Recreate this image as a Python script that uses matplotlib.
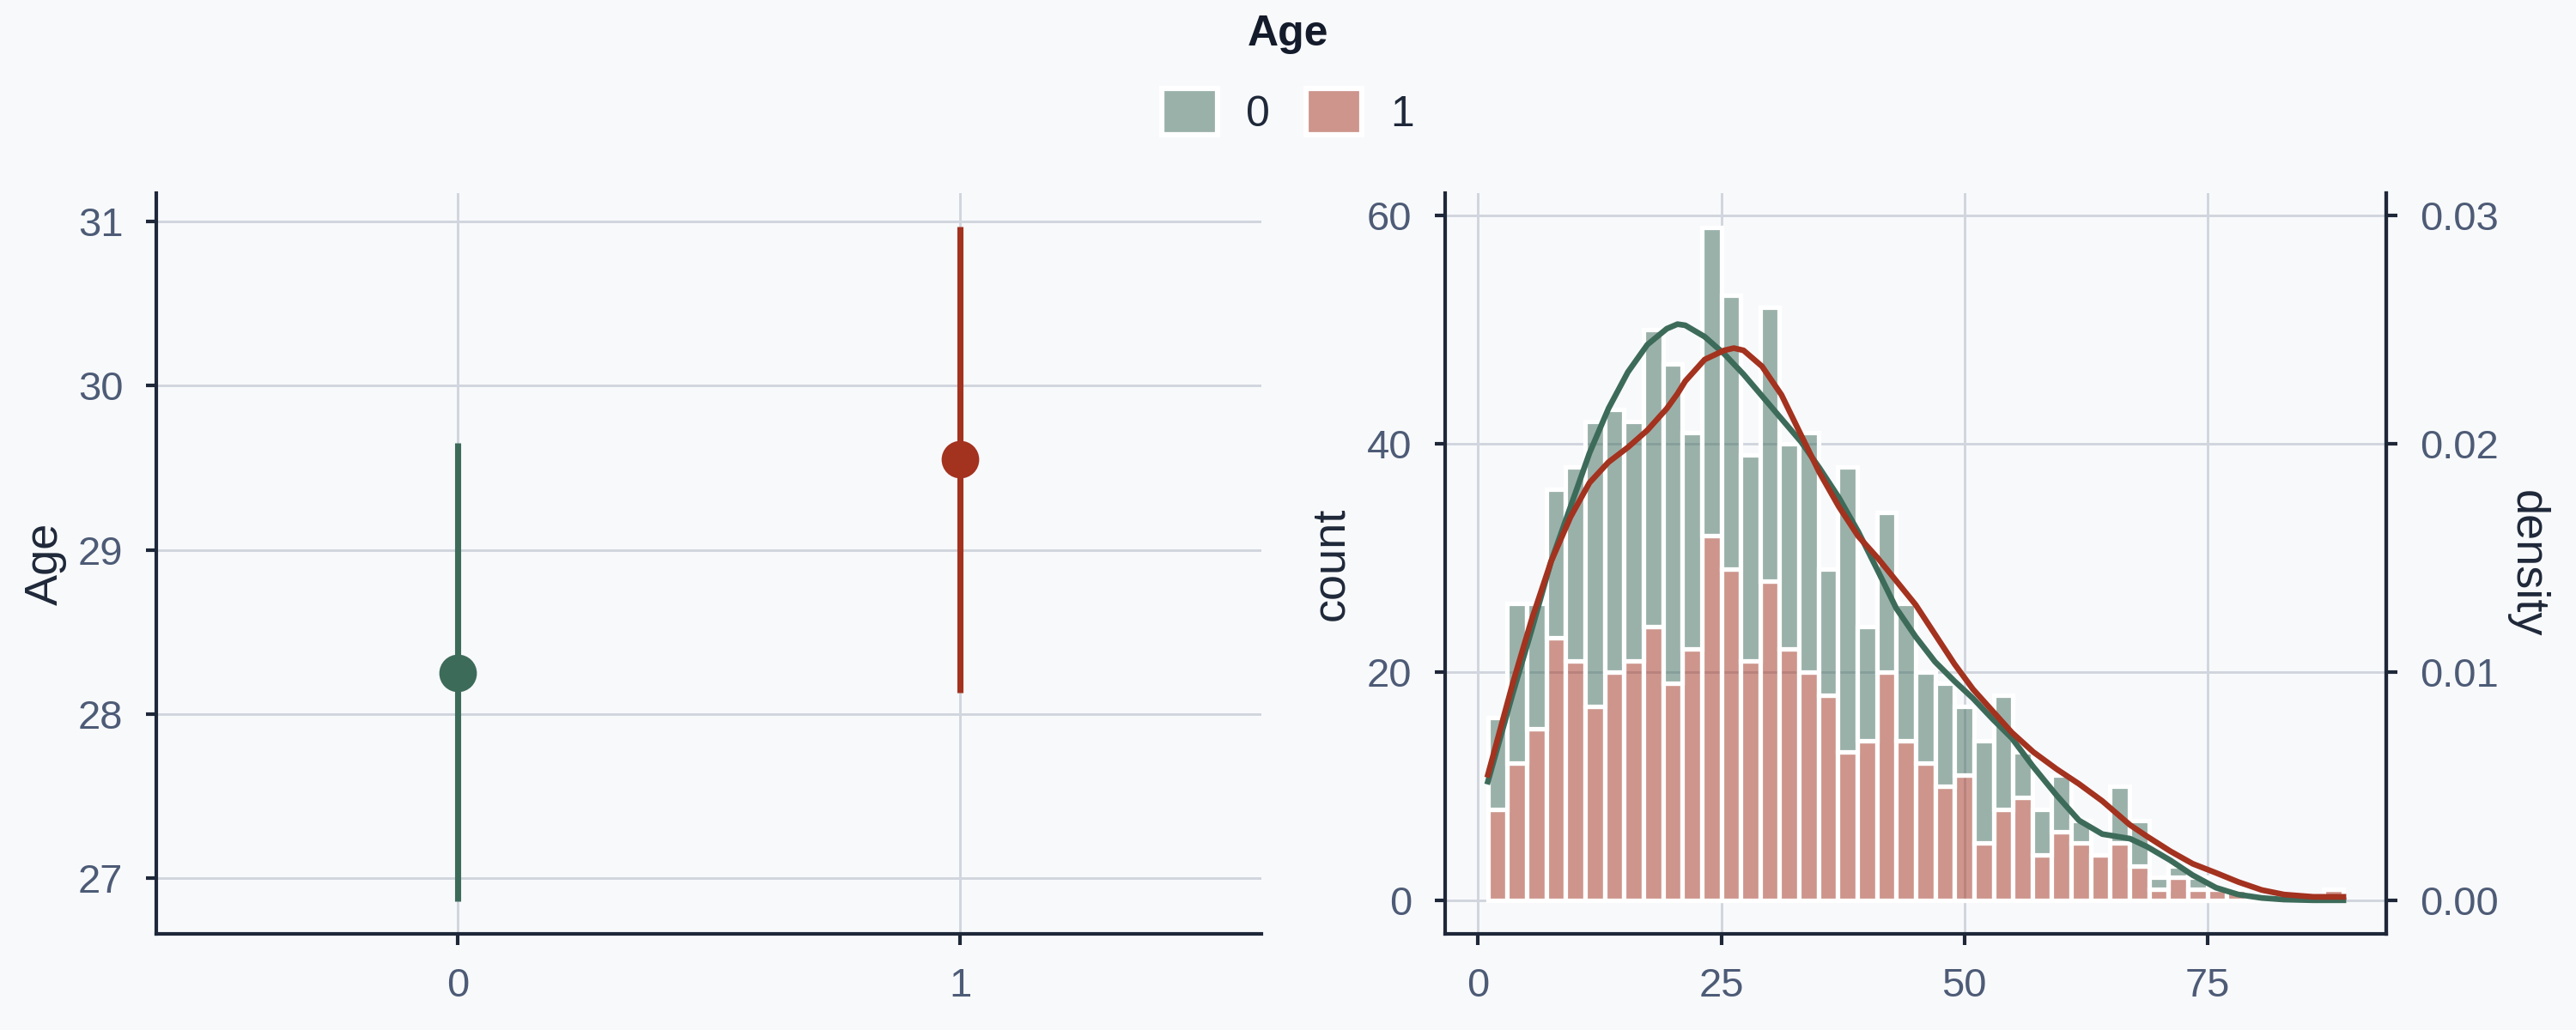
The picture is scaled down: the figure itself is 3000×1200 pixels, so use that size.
import numpy as np
import matplotlib
matplotlib.use('Agg')
import matplotlib.pyplot as plt
from matplotlib.patches import Patch

plt.rcParams['font.family'] = ['Liberation Sans', 'DejaVu Sans']
plt.rcParams['font.size'] = 11

## DATA

groups = [0, 1]
group_labels = ['0', '1']

# pointplot: mean age per group with confidence interval
age_mean = [28.25, 29.55]
age_ci_low = [26.86, 28.13]
age_ci_high = [29.65, 30.97]

# histogram bins (age), 44 bins of width 2
age_bins = np.linspace(1, 89, 45)

# stacked counts per bin: group 1 at the bottom, group 0 on top
counts_1 = [8, 12, 15, 23, 21, 17, 20, 21, 24, 19, 22, 32, 29, 21, 28, 22, 20, 18, 13, 14, 20, 14,
            12, 10, 11, 5, 8, 9, 4, 6, 5, 4, 5, 3, 1, 2, 1, 1, 1, 0, 0, 0, 0, 1]
counts_0 = [8, 14, 11, 13, 17, 25, 23, 21, 26, 28, 19, 27, 24, 18, 24, 18, 21, 11, 25, 10, 14, 12,
            8, 9, 6, 9, 10, 4, 4, 5, 2, 0, 5, 4, 1, 1, 1, 0, 0, 0, 0, 0, 0, 0]

# kde curves (density axis)
kde_x = [1.0, 3.55, 5.5, 7.5, 9.5, 11.45, 13.4, 15.4, 17.4, 19.4, 20.5, 21.3, 23.3, 25.3, 26.3,
         27.3, 29.2, 31.2, 33.2, 35.1, 37.1, 39.1, 41.1, 43.0, 45.0, 47.0, 49.0, 50.9, 52.9, 54.9,
         57.1, 59.5, 61.8, 64.2, 67.05, 68.8, 71.2, 73.5, 75.9, 78.2, 80.6, 82.9, 85.9, 89.0]
kde_0 = [0.0052, 0.00905, 0.01185, 0.01485, 0.01725, 0.0196, 0.02155, 0.02315, 0.02435, 0.02505,
         0.02525, 0.0252, 0.0247, 0.02395, 0.0235, 0.02305, 0.0221, 0.0211, 0.0201, 0.01895,
         0.01765, 0.01615, 0.01445, 0.0128, 0.01155, 0.01045, 0.0096, 0.00885, 0.00795, 0.0071,
         0.00585, 0.0046, 0.0035, 0.0029, 0.0027, 0.00235, 0.00175, 0.0011, 0.00055, 0.00025,
         0.0001, 0.00003, 0.0, 0.0]
kde_1 = [0.0055, 0.0095, 0.0123, 0.01485, 0.0168, 0.0183, 0.0192, 0.01985, 0.0206, 0.02155,
         0.0222, 0.02275, 0.0237, 0.0241, 0.0242, 0.0241, 0.0234, 0.02215, 0.0204, 0.01875,
         0.01725, 0.01595, 0.015, 0.014, 0.01295, 0.01165, 0.01035, 0.00925, 0.0083, 0.00735,
         0.0065, 0.00575, 0.0051, 0.00435, 0.0033, 0.0028, 0.00215, 0.0016, 0.0012, 0.0008,
         0.00045, 0.00025, 0.00015, 0.00015]

## STYLE

bg = '#f8f9fb'
grid_col = '#d1d5dd'
spine_col = '#1e2839'
tick_col = '#4d5b76'
label_col = '#1e2839'
green = '#3d6b5a'
red = '#a3321f'
colors = [green, red]

fig = plt.figure(figsize=(10, 4), dpi=300, facecolor=bg)
ax1 = fig.add_axes([0.0607, 0.0933, 0.429, 0.7188])
ax2 = fig.add_axes([0.561, 0.0933, 0.3653, 0.7188])


def style_axes(ax, spines):
    ax.set_facecolor(bg)
    for s in ['left', 'right', 'top', 'bottom']:
        ax.spines[s].set_visible(s in spines)
        ax.spines[s].set_color(spine_col)
        ax.spines[s].set_linewidth(1.0)
    ax.tick_params(colors=spine_col, labelcolor=tick_col, length=3, width=1.0, pad=6.3, labelsize=11.3)
    ax.set_axisbelow(True)
    ax.grid(True, color=grid_col, linewidth=0.7)


## LEFT: pointplot

style_axes(ax1, ['left', 'bottom'])
for g, m, lo, hi, c in zip(groups, age_mean, age_ci_low, age_ci_high, colors):
    ax1.vlines(g, lo, hi, color=c, linewidth=1.7, zorder=3)
    ax1.plot(g, m, 'o', color=c, markersize=9.5, zorder=4)
ax1.set_xticks(groups)
ax1.set_xticklabels(group_labels)
ax1.set_xlim(-0.6, 1.6)
ax1.set_yticks([27, 28, 29, 30, 31])
ax1.set_ylim(26.66, 31.17)
ax1.set_ylabel('Age', color=label_col, fontsize=13, labelpad=3)

## RIGHT: stacked histogram + kde on twin axis

style_axes(ax2, ['left', 'bottom', 'right'])
centers = (age_bins[:-1] + age_bins[1:]) / 2
widths = np.diff(age_bins)
ax2.bar(centers, counts_1, width=widths, facecolor=matplotlib.colors.to_rgba(red, 0.5),
        edgecolor='white', linewidth=1.25, zorder=2)
ax2.bar(centers, counts_0, bottom=counts_1, width=widths,
        facecolor=matplotlib.colors.to_rgba(green, 0.5), edgecolor='white', linewidth=1.25, zorder=2)
ax2.set_xticks([0, 25, 50, 75])
ax2.set_xlim(-3.4, 93.4)
ax2.set_yticks([0, 20, 40, 60])
ax2.set_ylim(-2.95, 61.95)
ax2.set_ylabel('count', color=label_col, fontsize=13, labelpad=4)

ax3 = ax2.twinx()
for s in ['left', 'top', 'bottom']:
    ax3.spines[s].set_visible(False)
ax3.spines['right'].set_color(spine_col)
ax3.spines['right'].set_linewidth(1.0)
ax3.tick_params(colors=spine_col, labelcolor=tick_col, length=3, width=1.0, pad=6.3, labelsize=11.3)
ax3.plot(kde_x, kde_0, color=green, linewidth=1.6)
ax3.plot(kde_x, kde_1, color=red, linewidth=1.6)
ax3.set_ylim(-0.001475, 0.030975)
ax3.set_yticks([0.0, 0.01, 0.02, 0.03])
ax3.set_yticklabels(['0.00', '0.01', '0.02', '0.03'])
ax3.set_ylabel('density', color=label_col, fontsize=13, rotation=270, va='bottom', labelpad=2)

## LEGEND

handles = [Patch(facecolor=matplotlib.colors.to_rgba(c, 0.5), edgecolor='white', linewidth=1.5)
           for c in colors]
leg = fig.legend(handles, group_labels, title='Age', loc='upper center', bbox_to_anchor=(0.5, 1.007),
                 ncol=2, frameon=False, handlelength=1.3, handleheight=1.3, handletextpad=0.65,
                 columnspacing=0.85, borderpad=0.0, labelspacing=0.8, fontsize=12,
                 title_fontproperties={'weight': 'bold', 'size': 12})
for t in leg.get_texts():
    t.set_color(label_col)
leg.get_title().set_color('#141b2b')

fig.savefig('out.png', dpi=300, facecolor=bg)
